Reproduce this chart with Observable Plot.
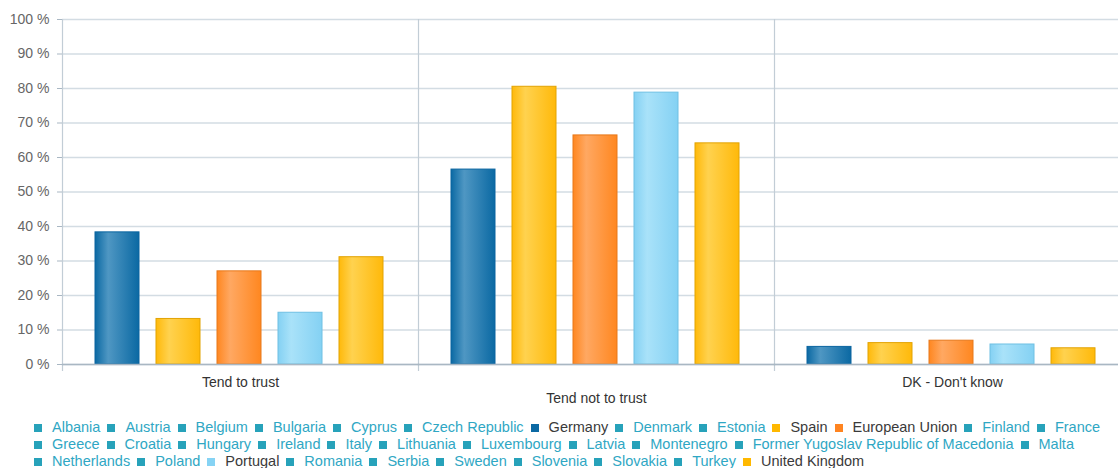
<!DOCTYPE html>
<html>
<head>
<meta charset="utf-8">
<script src="https://cdn.jsdelivr.net/npm/d3@7"></script>
<script src="https://cdn.jsdelivr.net/npm/@observablehq/plot@0.6"></script>
<style>
  html, body { margin: 0; padding: 0; background: #fff; overflow: hidden; }
  body { width: 1118px; font-family: "Liberation Sans", Arial, sans-serif; }
  #chart svg { display: block; overflow: hidden; }
  #legend { padding: 9px 0 0 34px; font-size: 14.5px; line-height: 17px; }
  #legend .row { display: flex; white-space: nowrap; }
  #legend .item { display: flex; align-items: center; margin-right: 7px; }
  #legend .swatch { width: 8px; height: 8px; margin-right: 10px; flex: none; }
</style>
</head>
<body>
<div id="chart"></div>
<div id="legend"></div>
<script>
// Answer categories along the x axis
const categories = ["Tend to trust", "Tend not to trust", "DK - Don't know"];
// Which label row each category label sits on (staggered)
const labelRows = [0, 1, 0];

// Selected series, in bar order within each category
const series = ["Germany", "Spain", "European Union", "Portugal", "United Kingdom"];

// Shares (%) per category for each series
const germany = [38.3, 56.5, 5.1];
const spain = [13.2, 80.5, 6.2];
const europeanUnion = [27.0, 66.4, 6.9];
const portugal = [15.0, 78.8, 5.8];
const unitedKingdom = [31.1, 64.1, 4.7];

// y axis ticks
const yTicks = [0, 10, 20, 30, 40, 50, 60, 70, 80, 90, 100];

// Bar colours: edge shade, highlight shade, border
const seriesColors = {
  "Germany":        {edge: "#0b69a3", light: "#4f97c3", border: "#0a65a0"},
  "Spain":          {edge: "#ffb90a", light: "#ffd24f", border: "#e2a303"},
  "European Union": {edge: "#ff8720", light: "#ffa862", border: "#e7781a"},
  "Portugal":       {edge: "#84d1f3", light: "#a9e2f9", border: "#6fc0e3"},
  "United Kingdom": {edge: "#ffb90a", light: "#ffd24f", border: "#e2a303"}
};

// Legend entries, row by row; entries in `series` are the visible ones
const legendRow1 = ["Albania", "Austria", "Belgium", "Bulgaria", "Cyprus", "Czech Republic", "Germany", "Denmark", "Estonia", "Spain", "European Union", "Finland", "France"];
const legendRow2 = ["Greece", "Croatia", "Hungary", "Ireland", "Italy", "Lithuania", "Luxembourg", "Latvia", "Montenegro", "Former Yugoslav Republic of Macedonia", "Malta"];
const legendRow3 = ["Netherlands", "Poland", "Portugal", "Romania", "Serbia", "Sweden", "Slovenia", "Slovakia", "Turkey", "United Kingdom"];
const legendSwatch = {"Germany": "#0b69a3", "Spain": "#ffb800", "European Union": "#ff8420", "Portugal": "#86d3f4", "United Kingdom": "#ffb800"};

const valuesBySeries = {
  "Germany": germany,
  "Spain": spain,
  "European Union": europeanUnion,
  "Portugal": portugal,
  "United Kingdom": unitedKingdom
};

const data = series.flatMap(s =>
  categories.map((c, i) => ({series: s, category: c, value: valuesBySeries[s][i]}))
);

const gradId = s => "grad-" + series.indexOf(s);

const axisGrey = "#a9b7c3";
const gridGrey = "#d3dce3";
const labelGrey = "#666666";

const chart = Plot.plot({
  width: 1118,
  height: 410,
  marginTop: 19,
  marginBottom: 46,
  marginLeft: 62,
  marginRight: 0,
  style: {fontFamily: "'Liberation Sans', Arial, sans-serif", background: "#fff"},
  fx: {domain: categories, range: [62, 1130], padding: 0, axis: null},
  x: {domain: series, paddingInner: 0.28, paddingOuter: 0.53, align: 0.48, axis: null},
  y: {domain: [0, 100]},
  color: {type: "identity"},
  marks: [
    Plot.gridY({ticks: yTicks, stroke: gridGrey, strokeOpacity: 1, strokeWidth: 1.3}),
    Plot.frame({anchor: "left", stroke: "#c2cdd6", strokeWidth: 1.2, insetBottom: -6}),
    Plot.barY(data, {
      fx: "category",
      x: "series",
      y: "value",
      fill: d => `url(#${gradId(d.series)})`,
      stroke: d => seriesColors[d.series].border,
      strokeWidth: 1
    }),
    Plot.frame({anchor: "bottom", stroke: axisGrey, strokeWidth: 1.3}),
    Plot.axisY({
      ticks: yTicks,
      tickFormat: d => `${d} %`,
      tickSize: 5,
      tickPadding: 8,
      label: null,
      stroke: axisGrey,
      fill: labelGrey,
      fontSize: 14
    }),
    Plot.text(categories, {
      filter: (d, i) => labelRows[i] === 0,
      fx: d => d,
      text: d => d,
      frameAnchor: "bottom",
      lineAnchor: "middle",
      dy: 18,
      fill: "#333",
      fontSize: 14
    }),
    Plot.text(categories, {
      filter: (d, i) => labelRows[i] === 1,
      fx: d => d,
      text: d => d,
      frameAnchor: "bottom",
      lineAnchor: "middle",
      dy: 34,
      fill: "#333",
      fontSize: 14
    })
  ]
});

// Horizontal gradients giving the bars their cylindrical shading
const svgNS = "http://www.w3.org/2000/svg";
const defs = document.createElementNS(svgNS, "defs");
for (const s of series) {
  const c = seriesColors[s];
  const g = document.createElementNS(svgNS, "linearGradient");
  g.setAttribute("id", gradId(s));
  g.setAttribute("x1", "0"); g.setAttribute("y1", "0");
  g.setAttribute("x2", "1"); g.setAttribute("y2", "0");
  [[0, c.edge], [0.3, c.light], [1, c.edge]].forEach(([o, col]) => {
    const st = document.createElementNS(svgNS, "stop");
    st.setAttribute("offset", o);
    st.setAttribute("stop-color", col);
    g.appendChild(st);
  });
  defs.appendChild(g);
}
chart.insertBefore(defs, chart.firstChild);
document.getElementById("chart").appendChild(chart);

// Legend
const legend = document.getElementById("legend");
for (const row of [legendRow1, legendRow2, legendRow3]) {
  const r = document.createElement("div");
  r.className = "row";
  for (const name of row) {
    const active = series.includes(name);
    const item = document.createElement("div");
    item.className = "item";
    const sw = document.createElement("span");
    sw.className = "swatch";
    sw.style.background = active ? legendSwatch[name] : "#27a2ba";
    const label = document.createElement("span");
    label.textContent = name;
    label.style.color = active ? "#3a3a3a" : "#2fa7c4";
    item.append(sw, label);
    r.appendChild(item);
  }
  legend.appendChild(r);
}
</script>
</body>
</html>
